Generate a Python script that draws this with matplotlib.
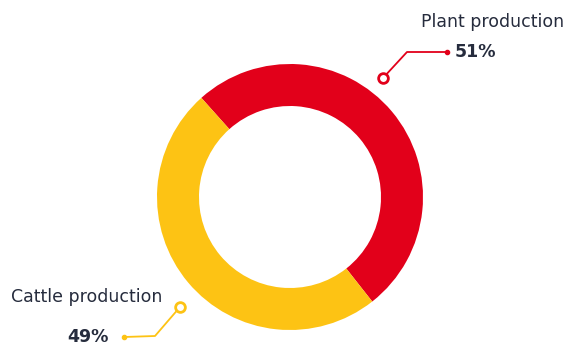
import matplotlib.pyplot as plt

labels = ["Plant production", "Cattle production"]
shares = [51, 49]
colors = ["#E2001A", "#FDC314"]

W, H = 568, 347
fig = plt.figure(figsize=(W / 100, H / 100), dpi=100)
ax = fig.add_axes([0, 0, 1, 1])

# donut, red slice centred on ~40 degrees
start = 40 - shares[0] / 100 * 360 / 2
ax.pie(shares, colors=colors, startangle=start, center=(290, 150), radius=133,
       wedgeprops=dict(width=42, edgecolor="none"), frame=True)
ax.set_xlim(0, W)
ax.set_ylim(0, H)
ax.axis("off")

txt = "#262c3d"
font = ["Liberation Sans Narrow", "DejaVu Sans"]

# leader for the red slice
ax.plot([383, 407, 447], [H - 78, H - 52, H - 52], color=colors[0], lw=1.3)
ax.plot(447, H - 52, "o", color=colors[0], ms=3)
ax.plot(383, H - 78, "o", mfc="white", mec=colors[0], mew=2, ms=7)
ax.text(421, H - 22, labels[0], ha="left", va="center", fontsize=12.5, color=txt, family=font)
ax.text(455, H - 52, f"{shares[0]}%", ha="left", va="center", fontsize=12.5,
        fontweight="bold", color=txt, family=font)

# leader for the yellow slice
ax.plot([180, 155, 124], [H - 307, H - 336, H - 337], color=colors[1], lw=1.3)
ax.plot(124, H - 337, "o", color=colors[1], ms=3)
ax.plot(180, H - 307, "o", mfc="white", mec=colors[1], mew=2, ms=7)
ax.text(11, H - 297, labels[1], ha="left", va="center", fontsize=12.5, color=txt, family=font)
ax.text(67, H - 337, f"{shares[1]}%", ha="left", va="center", fontsize=12.5,
        fontweight="bold", color=txt, family=font)

fig.savefig("out.png", dpi=100)
